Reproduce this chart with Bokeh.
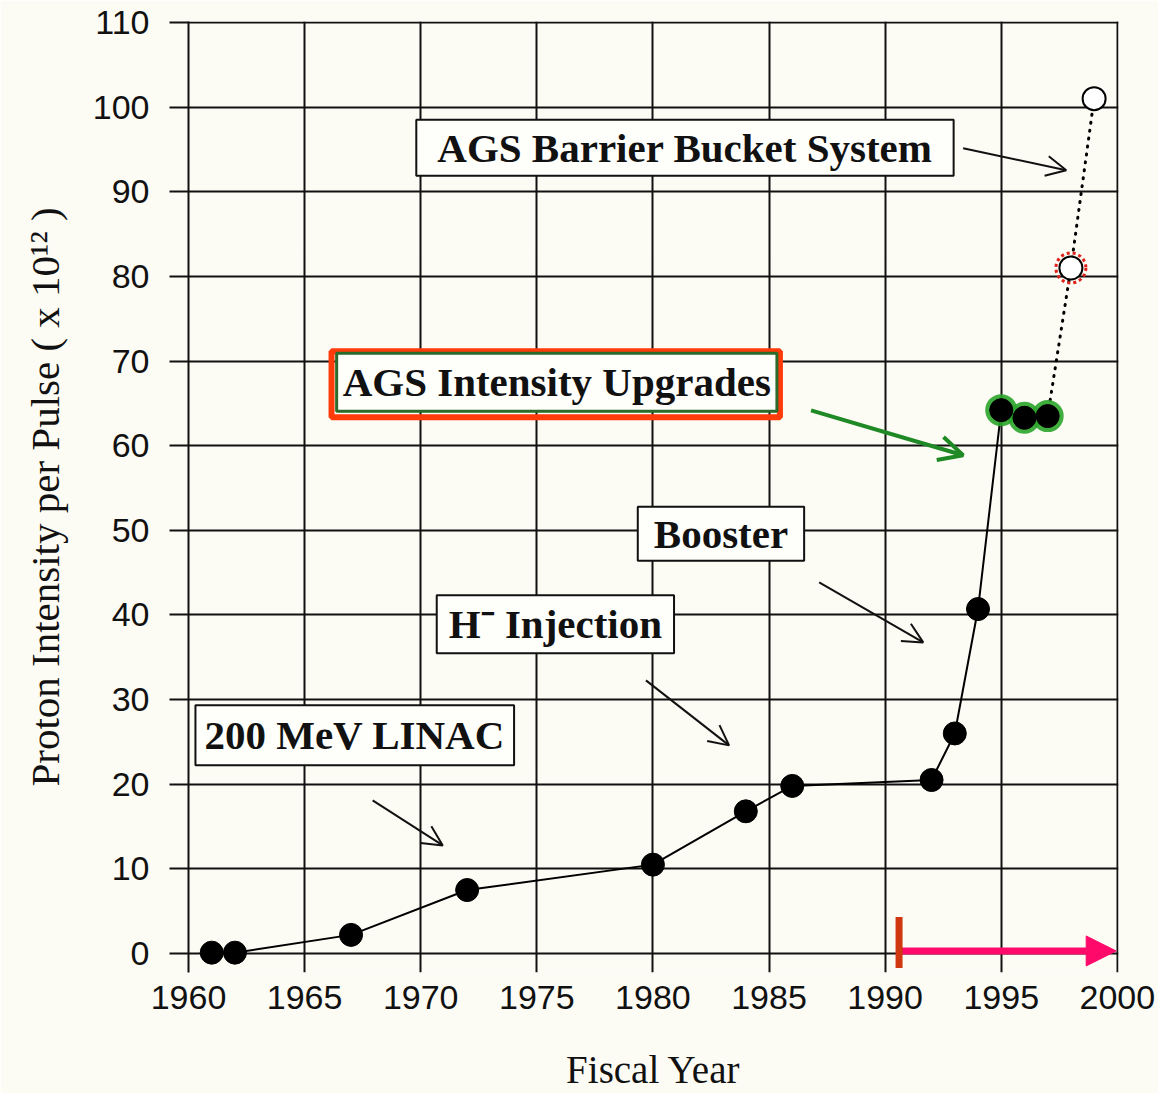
from bokeh.plotting import figure
from bokeh.models import Arrow, OpenHead, NormalHead, Label, BoxAnnotation, Range1d
from bokeh.embed import file_html
from bokeh.resources import INLINE

# ---- data ----
years = [1961, 1962, 1967, 1972, 1980, 1984, 1986, 1992, 1993, 1994, 1995, 1996, 1997]
intensity = [0.1, 0.1, 2.2, 7.5, 10.5, 16.8, 19.8, 20.5, 26.0, 40.7, 64.2, 63.3, 63.5]
highlight_years = [1995, 1996, 1997]
highlight_vals = [64.2, 63.3, 63.5]
proj_years = [1997, 1998, 1999]
proj_vals = [63.5, 81.0, 101.0]
x_ticks = [1960, 1965, 1970, 1975, 1980, 1985, 1990, 1995, 2000]
y_ticks = [0, 10, 20, 30, 40, 50, 60, 70, 80, 90, 100, 110]

ann_text = ["AGS Barrier Bucket System", "AGS Intensity Upgrades", "Booster", "H\u207b Injection", "200 MeV LINAC"]
ann_x = [1981.38, 1975.86, 1982.93, 1975.8, 1967.16]
ann_y = [95.2, 67.5, 49.6, 38.9, 25.8]
arrow_x0 = [1993.36, 1987.16, 1979.70, 1967.93]
arrow_y0 = [95.15, 43.85, 32.27, 18.09]
arrow_x1 = [1997.80, 1991.64, 1983.28, 1970.95]
arrow_y1 = [92.55, 36.76, 24.59, 12.77]
green_arrow = (1986.81, 64.18, 1993.36, 58.87)
period_start = 1990.6
period_end = 1999.95
x_title = "Fiscal Year"
y_title = "Proton Intensity per Pulse ( x 10\u00b9\u00b2 )"

bg = "#fcfbf4"
serif = "Liberation Serif"
sans = "Liberation Sans"
ink = "#111111"

p = figure(frame_width=930, frame_height=951,
           x_range=Range1d(1960, 2000.05), y_range=Range1d(-2.245, 110.12),
           output_backend="svg", toolbar_location=None,
           min_border_left=188, min_border_top=21, min_border_right=40, min_border_bottom=116,
           background_fill_color=bg, border_fill_color=bg)
p.outline_line_color = None

for g, t in ((p.xgrid, x_ticks), (p.ygrid, y_ticks)):
    g.ticker = t
    g.grid_line_color = ink
    g.grid_line_width = 2
    g.grid_line_alpha = 1

p.xaxis.ticker = x_ticks
p.yaxis.ticker = y_ticks
for ax in (p.xaxis[0], p.yaxis[0]):
    ax.axis_line_color = ink
    ax.axis_line_width = 2
    ax.major_tick_line_color = ink
    ax.major_tick_line_width = 2
    ax.major_tick_out = 19
    ax.major_tick_in = 0
    ax.minor_tick_line_color = None
    ax.major_label_text_font = sans
    ax.major_label_text_font_size = "34px"
    ax.major_label_text_color = ink
    ax.axis_label_text_font = serif
    ax.axis_label_text_font_style = "normal"
    ax.axis_label_text_color = ink
# x axis: the vertical grid lines themselves run down past 0 like ticks
p.xaxis.axis_line_color = None
p.xaxis.major_tick_line_color = None
p.xaxis.major_tick_out = 0
p.xaxis.major_label_standoff = 13
p.yaxis.major_label_standoff = 20
p.xaxis.axis_label = x_title
p.yaxis.axis_label = y_title
p.xaxis.axis_label_text_font_size = "39px"
p.yaxis.axis_label_text_font_size = "41px"
p.xaxis.axis_label_standoff = 36
p.yaxis.axis_label_standoff = 22

# data line
p.line(years, intensity, line_color="black", line_width=2)
p.line(proj_years, proj_vals, line_color="black", line_width=3, line_dash="1 7", line_cap="round")
# green highlight
p.scatter(highlight_years, highlight_vals, size=32, fill_color="#2aa52a", fill_alpha=0.9, line_color=None)
p.scatter(years, intensity, size=23, fill_color="black", line_color="black")
# projected points
p.scatter(proj_years[1:2], proj_vals[1:2], size=30, fill_color=None, line_color="#e0201b",
          line_width=3, line_dash="3 3")
p.scatter(proj_years[1:], proj_vals[1:], size=23, fill_color="white", line_color="black", line_width=2)

# red highlight box
p.add_layout(BoxAnnotation(left=1966.16, right=1985.47, top=71.16, bottom=63.36,
                           fill_alpha=0, line_color="#ff3b0a", line_alpha=1, line_width=6))

# annotation labels
hpad = [21, 6, 16, 12, 9]
vpad = [5, 6, 4, 6, 7]
for i, (t, x, y) in enumerate(zip(ann_text, ann_x, ann_y)):
    p.add_layout(Label(x=x, y=y, text=t, text_align="center", text_baseline="middle",
                       text_font=serif, text_font_style="bold", text_font_size="41px",
                       text_color=ink, background_fill_color="#fefefb",
                       border_line_color="#2a6a2a" if i == 1 else ink,
                       border_line_width=3 if i == 1 else 2, padding=(hpad[i], vpad[i])))

# black arrows
for x0, y0, x1, y1 in zip(arrow_x0, arrow_y0, arrow_x1, arrow_y1):
    p.add_layout(Arrow(x_start=x0, y_start=y0, x_end=x1, y_end=y1, line_color=ink, line_width=2,
                       end=OpenHead(size=20, line_color=ink, line_width=2)))
# green arrow
gx0, gy0, gx1, gy1 = green_arrow
p.add_layout(Arrow(x_start=gx0, y_start=gy0, x_end=gx1, y_end=gy1, line_color="#1f8a25", line_width=4,
                   end=OpenHead(size=24, line_color="#1f8a25", line_width=4)))

# period arrow
p.add_layout(Arrow(x_start=period_start, y_start=0.3, x_end=period_end, y_end=0.3,
                   line_color="#ff0a6a", line_width=7,
                   end=NormalHead(size=30, fill_color="#ff0a6a", line_color="#ff0a6a")))
p.add_layout(Arrow(x_start=period_start, y_start=4.3, x_end=period_start, y_end=-1.7,
                   line_color="#d0380f", line_width=7, end=None))

open("out.html", "w").write(file_html(p, INLINE))
